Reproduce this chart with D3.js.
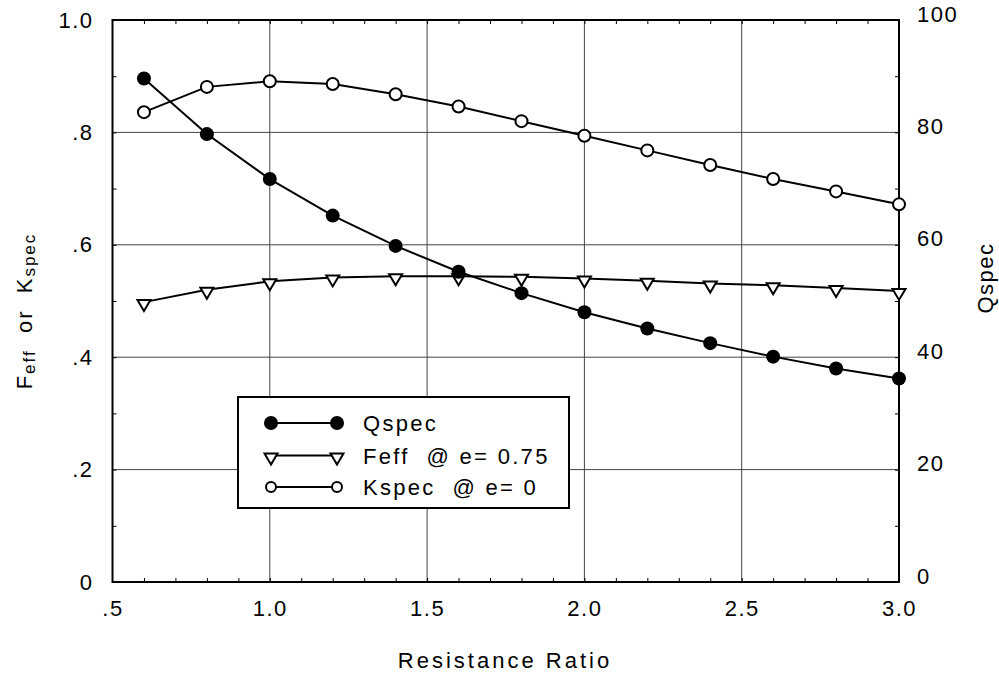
<!DOCTYPE html>
<html>
<head>
<meta charset="utf-8">
<script src="https://cdn.jsdelivr.net/npm/d3@7"></script>
<style>
  body { margin: 0; background: #fff; }
  svg { display: block; font-family: "Liberation Sans", Arial, sans-serif; }
  .lab { font-size: 22px; letter-spacing: 1.5px; fill: #000; }
</style>
</head>
<body>
<div id="chart"></div>
<script>
// data
const ratio = [0.6, 0.8, 1.0, 1.2, 1.4, 1.6, 1.8, 2.0, 2.2, 2.4, 2.6, 2.8, 3.0];
const qspec = [89.6, 79.7, 71.7, 65.2, 59.8, 55.2, 51.4, 48.0, 45.1, 42.5, 40.1, 38.0, 36.2];
const feff = [0.498, 0.520, 0.535, 0.542, 0.544, 0.544, 0.543, 0.540, 0.536, 0.531, 0.528, 0.523, 0.518];
const kspec = [0.836, 0.881, 0.891, 0.886, 0.868, 0.846, 0.820, 0.794, 0.768, 0.742, 0.717, 0.695, 0.672];

const xTicks = [0.5, 1.0, 1.5, 2.0, 2.5, 3.0];
const xTickLabels = ['.5', '1.0', '1.5', '2.0', '2.5', '3.0'];
const leftTicks = [0, 0.2, 0.4, 0.6, 0.8, 1.0];
const leftTickLabels = ['0', '.2', '.4', '.6', '.8', '1.0'];
const rightTicks = [0, 20, 40, 60, 80, 100];

const width = 999;
const height = 674;
const plotLeft = 112.5, plotRight = 899, plotTop = 20, plotBottom = 582;

const svg = d3.select('#chart')
              .append('svg')
              .attr('width', width)
              .attr('height', height);

const xScale = d3.scaleLinear().domain([0.5, 3.0]).range([plotLeft, plotRight]);
const yLeft = d3.scaleLinear().domain([0, 1]).range([plotBottom, plotTop]);
const yRight = d3.scaleLinear().domain([0, 100]).range([plotBottom, plotTop]);

// grid
const grid = svg.append('g').attr('stroke', '#444').attr('stroke-width', 1);
grid.selectAll('.vg')
    .data(xTicks.slice(1, -1))
    .enter()
    .append('line')
    .attr('x1', d => xScale(d)).attr('x2', d => xScale(d))
    .attr('y1', plotTop).attr('y2', plotBottom);
grid.selectAll('.hg')
    .data(leftTicks.slice(1, -1))
    .enter()
    .append('line')
    .attr('y1', d => yLeft(d)).attr('y2', d => yLeft(d))
    .attr('x1', plotLeft).attr('x2', plotRight);

// minor ticks (inward)
const minorX = d3.range(6, 30).map(d => d / 10);
const minorY = d3.range(1, 10).map(d => d / 10);

svg.append('g')
   .attr('transform', 'translate(0,' + plotBottom + ')')
   .call(d3.axisBottom(xScale).tickValues(minorX).tickSize(-4).tickFormat(''))
   .call(g => g.select('.domain').remove());
svg.append('g')
   .attr('transform', 'translate(0,' + plotTop + ')')
   .call(d3.axisTop(xScale).tickValues(minorX).tickSize(-4).tickFormat(''))
   .call(g => g.select('.domain').remove());
svg.append('g')
   .attr('transform', 'translate(' + plotLeft + ',0)')
   .call(d3.axisLeft(yLeft).tickValues(minorY).tickSize(-4).tickFormat(''))
   .call(g => g.select('.domain').remove());
svg.append('g')
   .attr('transform', 'translate(' + plotRight + ',0)')
   .call(d3.axisRight(yRight).tickValues(minorY.map(d => d * 100)).tickSize(-4).tickFormat(''))
   .call(g => g.select('.domain').remove());

// tick labels
svg.append('g')
   .attr('transform', 'translate(0,' + plotBottom + ')')
   .call(d3.axisBottom(xScale).tickValues(xTicks).tickSize(0).tickPadding(18)
          .tickFormat((d, i) => xTickLabels[i]))
   .call(g => g.select('.domain').remove())
   .selectAll('text').attr('class', 'lab');

svg.append('g')
   .attr('transform', 'translate(' + plotLeft + ',0)')
   .call(d3.axisLeft(yLeft).tickValues(leftTicks).tickSize(0).tickPadding(19)
          .tickFormat((d, i) => leftTickLabels[i]))
   .call(g => g.select('.domain').remove())
   .selectAll('text').attr('class', 'lab');

svg.append('g')
   .attr('transform', 'translate(' + plotRight + ',0)')
   .call(d3.axisRight(yRight).tickValues(rightTicks).tickSize(0).tickPadding(18))
   .call(g => g.select('.domain').remove())
   .selectAll('text').attr('class', 'lab')
   .attr('dy', '0.05em');

svg.selectAll('.tick text').style('font-size', '22px').style('font-family', '"Liberation Sans", Arial, sans-serif');

// frame
svg.append('rect')
   .attr('x', plotLeft).attr('y', plotTop)
   .attr('width', plotRight - plotLeft).attr('height', plotBottom - plotTop)
   .attr('fill', 'none').attr('stroke', '#000').attr('stroke-width', 2);

// series
const qLine = d3.line().x((d, i) => xScale(ratio[i])).y(d => yRight(d));
const lLine = d3.line().x((d, i) => xScale(ratio[i])).y(d => yLeft(d));

const series = svg.append('g').attr('fill', 'none').attr('stroke', '#000').attr('stroke-width', 2);
series.append('path').attr('d', qLine(qspec));
series.append('path').attr('d', lLine(feff));
series.append('path').attr('d', lLine(kspec));

const triangle = (cx, cy) => {
  return 'M' + (cx - 6.5) + ',' + (cy - 2) + 'L' + (cx + 6.5) + ',' + (cy - 2) +
         'L' + cx + ',' + (cy + 9) + 'Z';
};

svg.append('g').selectAll('path')
   .data(feff)
   .enter()
   .append('path')
   .attr('d', (d, i) => triangle(xScale(ratio[i]), yLeft(d)))
   .attr('fill', '#fff').attr('stroke', '#000').attr('stroke-width', 2);

svg.append('g').selectAll('circle')
   .data(kspec)
   .enter()
   .append('circle')
   .attr('cx', (d, i) => xScale(ratio[i]))
   .attr('cy', d => yLeft(d))
   .attr('r', 6)
   .attr('fill', '#fff').attr('stroke', '#000').attr('stroke-width', 2);

svg.append('g').selectAll('circle')
   .data(qspec)
   .enter()
   .append('circle')
   .attr('cx', (d, i) => xScale(ratio[i]))
   .attr('cy', d => yRight(d))
   .attr('r', 7)
   .attr('fill', '#000');

// legend
const legend = svg.append('g');
legend.append('rect')
      .attr('x', 238).attr('y', 397).attr('width', 331).attr('height', 111)
      .attr('fill', '#fff').attr('stroke', '#000').attr('stroke-width', 2);

const legendRows = [423, 455.5, 487];
const lx1 = 271, lx2 = 337;
legendRows.forEach((y, i) => {
  legend.append('line').attr('x1', lx1).attr('x2', lx2).attr('y1', y).attr('y2', y)
        .attr('stroke', '#000').attr('stroke-width', 2);
});
[lx1, lx2].forEach(x => {
  legend.append('circle').attr('cx', x).attr('cy', legendRows[0]).attr('r', 7).attr('fill', '#000');
  legend.append('path').attr('d', triangle(x, legendRows[1]))
        .attr('fill', '#fff').attr('stroke', '#000').attr('stroke-width', 2);
  legend.append('circle').attr('cx', x).attr('cy', legendRows[2]).attr('r', 5)
        .attr('fill', '#fff').attr('stroke', '#000').attr('stroke-width', 2);
});

const legendText = ['Qspec', 'Feff  @ e= 0.75', 'Kspec  @ e= 0'];
legend.selectAll('text')
      .data(legendText)
      .enter()
      .append('text')
      .attr('class', 'lab')
      .attr('x', 363)
      .attr('y', (d, i) => legendRows[i] + 8)
      .style('white-space', 'pre')
      .style('letter-spacing', '2.3px')
      .text(d => d);

// axis titles
svg.append('text')
   .attr('class', 'lab')
   .attr('x', 505).attr('y', 668)
   .attr('text-anchor', 'middle')
   .style('letter-spacing', '3px')
   .text('Resistance Ratio');

const yTitle = svg.append('text')
   .attr('class', 'lab')
   .attr('transform', 'translate(32,311) rotate(-90)')
   .attr('text-anchor', 'middle')
   .style('white-space', 'pre')
   .style('letter-spacing', '2px');
yTitle.append('tspan').text('F');
yTitle.append('tspan').style('font-size', '17px').attr('dy', 3).text('eff');
yTitle.append('tspan').attr('dy', -3).text('  or  K');
yTitle.append('tspan').style('font-size', '17px').attr('dy', 3).text('spec');

svg.append('text')
   .attr('class', 'lab')
   .attr('transform', 'translate(993,278) rotate(-90)')
   .attr('text-anchor', 'middle')
   .text('Qspec');
</script>
</body>
</html>
